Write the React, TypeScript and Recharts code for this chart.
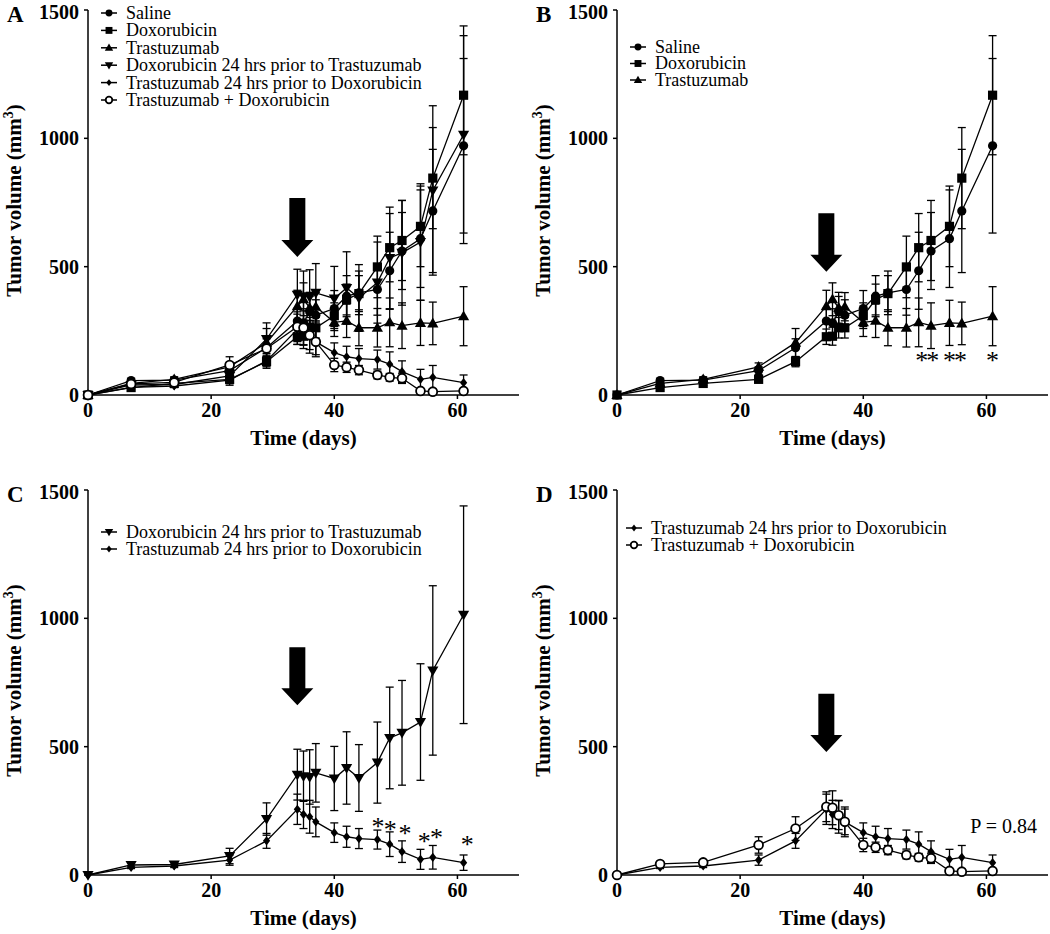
import React from 'react';
import { ComposedChart, Line, XAxis, YAxis, ErrorBar, Legend, ReferenceLine, ReferenceDot, Scatter } from 'recharts';

const FONT = '"Liberation Serif", "Times New Roman", serif';

// sampling days
const DAYS = [0, 7, 14, 23, 29, 34, 35, 36, 37, 40, 42, 44, 47, 49, 51, 54, 56, 61];

// mean tumor volume (mm3) and SEM per group
const SALINE = [0, 56, 58, 95, 184, 288, 281, 324, 311, 337, 385, 398, 411, 484, 561, 609, 717, 971];
const SALINE_ERR = [0, 8, 10, 15, 35, 50, 55, 60, 60, 70, 80, 85, 100, 150, 150, 190, 240, 340];
const DOX = [0, 29, 45, 61, 130, 227, 229, 262, 262, 309, 372, 395, 499, 574, 602, 657, 845, 1168];
const DOX_ERR = [0, 6, 8, 10, 20, 30, 35, 40, 40, 50, 60, 70, 120, 133, 156, 157, 197, 232];
const TRAS = [0, 45, 61, 110, 204, 346, 373, 340, 344, 283, 289, 262, 262, 283, 270, 281, 279, 307];
const TRAS_ERR = [0, 8, 10, 15, 55, 62, 64, 60, 55, 55, 65, 70, 75, 95, 89, 88, 83, 115];
const DOX24 = [0, 39, 41, 74, 218, 391, 385, 382, 398, 376, 417, 378, 438, 534, 554, 596, 797, 1014];
const DOX24_ERR = [0, 8, 8, 30, 63, 99, 98, 106, 114, 125, 141, 130, 158, 198, 204, 227, 330, 424];
const TRAS24 = [0, 30, 35, 58, 133, 256, 236, 227, 207, 165, 149, 142, 138, 120, 91, 61, 69, 48];
const TRAS24_ERR = [0, 5, 6, 20, 29, 59, 55, 64, 58, 38, 41, 39, 37, 48, 42, 39, 46, 30];
const TRASDOX = [0, 43, 49, 117, 181, 266, 262, 233, 207, 117, 108, 97, 78, 69, 65, 16, 13, 16];
const TRASDOX_ERR = [0, 6, 8, 32, 46, 58, 66, 56, 50, 26, 20, 18, 15, 15, 20, 8, 6, 8];

const X_TICKS = [0, 20, 40, 60];
const Y_TICKS = [0, 500, 1000, 1500];

// significance marks
const B_STAR_DAYS = [49.5, 51.3, 54, 55.8, 61];
const B_STAR_Y = [152, 152, 152, 152, 152];
const C_STAR_DAYS = [47.1, 49.1, 51.5, 54.6, 56.6, 61.6];
const C_STAR_Y = [207, 194, 178, 149, 164, 136];

type Shape = 'circle' | 'square' | 'triangle' | 'triDown' | 'diamond' | 'open';

const SERIES = [
  { key: 'saline', name: 'Saline', shape: 'circle' as Shape, values: SALINE, err: SALINE_ERR },
  { key: 'dox', name: 'Doxorubicin', shape: 'square' as Shape, values: DOX, err: DOX_ERR },
  { key: 'tras', name: 'Trastuzumab', shape: 'triangle' as Shape, values: TRAS, err: TRAS_ERR },
  { key: 'dox24', name: 'Doxorubicin 24 hrs prior to Trastuzumab', shape: 'triDown' as Shape, values: DOX24, err: DOX24_ERR },
  { key: 'tras24', name: 'Trastuzumab 24 hrs prior to Doxorubicin', shape: 'diamond' as Shape, values: TRAS24, err: TRAS24_ERR },
  { key: 'trasdox', name: 'Trastuzumab + Doxorubicin', shape: 'open' as Shape, values: TRASDOX, err: TRASDOX_ERR },
];

const rows = DAYS.map((day, i) => {
  const r: any = { day };
  SERIES.forEach((s) => {
    r[s.key] = s.values[i];
    r[s.key + 'Err'] = s.err[i];
  });
  return r;
});

function marker(shape: Shape, cx: number, cy: number, k: number, key?: any) {
  switch (shape) {
    case 'circle':
      return <circle key={key} cx={cx} cy={cy} r={4.6 * k} fill="#000" />;
    case 'square':
      return <rect key={key} x={cx - 4.6 * k} y={cy - 4.6 * k} width={9.2 * k} height={9.2 * k} fill="#000" />;
    case 'triangle':
      return (
        <polygon key={key} fill="#000"
          points={`${cx},${cy - 5.8 * k} ${cx + 5.6 * k},${cy + 4 * k} ${cx - 5.6 * k},${cy + 4 * k}`} />
      );
    case 'triDown':
      return (
        <polygon key={key} fill="#000"
          points={`${cx},${cy + 5.8 * k} ${cx + 5.6 * k},${cy - 4 * k} ${cx - 5.6 * k},${cy - 4 * k}`} />
      );
    case 'diamond':
      return (
        <polygon key={key} fill="#000"
          points={`${cx},${cy - 4.6 * k} ${cx + 3.6 * k},${cy} ${cx},${cy + 4.6 * k} ${cx - 3.6 * k},${cy}`} />
      );
    case 'open':
      return <circle key={key} cx={cx} cy={cy} r={4.4 * k} fill="#fff" stroke="#000" strokeWidth={1.8} />;
  }
  return null;
}

const dotFor = (shape: Shape) => (p: any) => {
  if (p.cx == null || p.cy == null) return <g key={p.index} />;
  return marker(shape, p.cx, p.cy, 1, p.index);
};

const Arrow = (p: any) => {
  const x = p.x1;
  const top = Math.min(p.y1, p.y2);
  const tip = Math.max(p.y1, p.y2);
  const hh = 17;
  const pts = [
    [x - 8, top], [x + 8, top], [x + 8, tip - hh], [x + 16, tip - hh],
    [x, tip], [x - 16, tip - hh], [x - 8, tip - hh],
  ].map((q) => q.join(',')).join(' ');
  return <polygon points={pts} fill="#000" />;
};

const Star = (p: any) => (
  <text x={p.cx} y={p.cy} dy="0.5em" textAnchor="middle" fontSize={26} fontFamily={FONT} fill="#000">*</text>
);

const tickStyle = { fill: '#000', fontSize: 20, fontWeight: 'bold' as const, fontFamily: FONT };

type PanelProps = {
  letter: string;
  left: number;
  top: number;
  width: number;
  keys: string[];
  legendX: number;
  legendY: number;
  legendStep: number;
  arrow: [number, number];
  stars?: { day: number; y: number }[];
  pText?: boolean;
};

function Panel({ letter, left, top, width, keys, legendX, legendY, legendStep, arrow, stars, pText }: PanelProps) {
  const items = SERIES.filter((s) => keys.includes(s.key));
  const legendContent = () => (
    <svg width={480} height={130} style={{ display: 'block', overflow: 'visible' }}>
      {items.map((s, i) => {
        const cy = legendY + i * legendStep;
        return (
          <g key={s.key}>
            <line x1={legendX - 8} x2={legendX + 8} y1={cy} y2={cy} stroke="#000" strokeWidth={1.5} />
            {marker(s.shape, legendX, cy, 0.75)}
            <text x={legendX + 17} y={cy} dy="0.33em" fontSize={18} fontFamily={FONT} fill="#000">{s.name}</text>
          </g>
        );
      })}
    </svg>
  );

  return (
    <div style={{ position: 'absolute', left, top }}>
      <ComposedChart width={width} height={455} data={rows} margin={{ top: 10, right: width - 519, bottom: 0, left: 0 }}>
        <XAxis
          type="number"
          dataKey="day"
          domain={[0, 70]}
          ticks={X_TICKS}
          tickSize={4}
          tickMargin={4}
          tick={tickStyle}
          axisLine={{ stroke: '#000', strokeWidth: 1.5 }}
          tickLine={{ stroke: '#000', strokeWidth: 1.5 }}
          height={60}
          label={{
            content: (lp: any) => {
              const vb = lp.viewBox;
              return (
                <text x={vb.x + vb.width / 2} y={vb.y + 50} textAnchor="middle" fontSize={21}
                  fontWeight="bold" fontFamily={FONT} fill="#000">Time (days)</text>
              );
            },
          }}
        />
        <YAxis
          type="number"
          domain={[0, 1500]}
          ticks={Y_TICKS}
          tickSize={4}
          tickMargin={5}
          tick={tickStyle}
          width={88}
          axisLine={{ stroke: '#000', strokeWidth: 1.5 }}
          tickLine={{ stroke: '#000', strokeWidth: 1.5 }}
          label={{
            content: (lp: any) => {
              const vb = lp.viewBox;
              const cy = vb.y + vb.height / 2 - 2;
              return (
                <text x={21} y={cy} transform={`rotate(-90 21 ${cy})`} textAnchor="middle" fontSize={21}
                  fontWeight="bold" fontFamily={FONT} fill="#000">
                  Tumor volume (mm<tspan dy={-8} fontSize={14}>3</tspan><tspan dy={8}>)</tspan>
                </text>
              );
            },
          }}
        />
        <Legend
          content={legendContent}
          layout="horizontal"
          verticalAlign="middle"
          align="center"
          wrapperStyle={{ position: 'absolute', left: 0, top: 0, width: 480, height: 130 }}
        />
        <ReferenceLine
          segment={[{ x: 34, y: arrow[0] }, { x: 34, y: arrow[1] }]}
          shape={Arrow}
        />
        {items.map((s) => (
          <Line
            key={s.key}
            type="linear"
            dataKey={s.key}
            name={s.name}
            stroke="#000"
            strokeWidth={1.3}
            dot={dotFor(s.shape)}
            activeDot={false}
            isAnimationActive={false}
          >
            <ErrorBar dataKey={s.key + 'Err'} direction="y" width={4} stroke="#000" strokeWidth={1.3} />
          </Line>
        ))}
        {stars && (
          <Scatter data={stars} dataKey="y" shape={Star} isAnimationActive={false} legendType="none" />
        )}
        {pText && (
          <ReferenceDot
            x={62.8}
            y={191}
            r={0}
            shape={(p: any) => (
              <text x={p.cx} y={p.cy} dy="0.35em" textAnchor="middle" fontSize={20} fontFamily={FONT} fill="#000">
                P = 0.84
              </text>
            )}
          />
        )}
      </ComposedChart>
      <div style={{ position: 'absolute', left: 7, top: 3, lineHeight: '23px', fontFamily: FONT, fontWeight: 'bold', fontSize: 23, color: '#000' }}>
        {letter}
      </div>
    </div>
  );
}

const bStars = B_STAR_DAYS.map((day, i) => ({ day, y: B_STAR_Y[i] }));
const cStars = C_STAR_DAYS.map((day, i) => ({ day, y: C_STAR_Y[i] }));

export default function App() {
  return (
    <div style={{ position: 'relative', width: 1050, height: 934, overflow: 'hidden', background: '#fff', fontFamily: FONT }}>
      <style>{'body{margin:0}'}</style>
      <Panel
        letter="A" left={0} top={0} width={525}
        keys={['saline', 'dox', 'tras', 'dox24', 'tras24', 'trasdox']}
        legendX={109} legendY={13} legendStep={17.4}
        arrow={[768, 538]}
      />
      <Panel
        letter="B" left={529} top={0} width={521}
        keys={['saline', 'dox', 'tras']}
        legendX={109} legendY={47} legendStep={16.5}
        arrow={[708, 480]}
        stars={bStars}
      />
      <Panel
        letter="C" left={0} top={480} width={525}
        keys={['dox24', 'tras24']}
        legendX={109} legendY={52} legendStep={17}
        arrow={[887, 661]}
        stars={cStars}
      />
      <Panel
        letter="D" left={529} top={480} width={521}
        keys={['tras24', 'trasdox']}
        legendX={105} legendY={48} legendStep={17}
        arrow={[706, 479]}
        pText
      />
    </div>
  );
}
